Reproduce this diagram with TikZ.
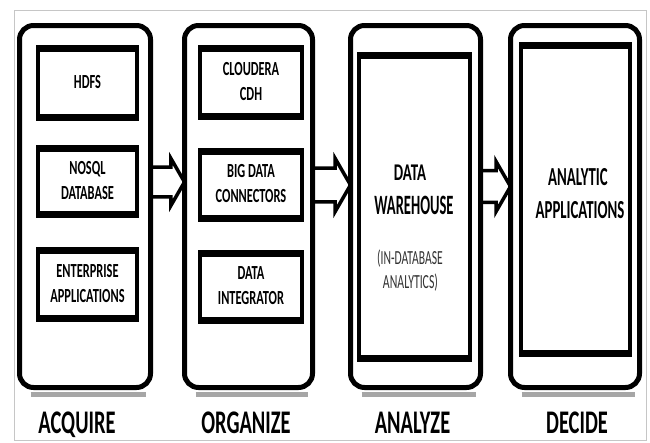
\documentclass[tikz,border=0pt]{standalone}
\usepackage{fontspec}
\setmainfont{Carlito}
\usetikzlibrary{shapes.arrows,calc,backgrounds}
\newcommand\sqz[2]{\scalebox{#1}[1]{\begin{tabular}[t]{@{}c@{}}#2\end{tabular}}}
\begin{document}
\begin{tikzpicture}[x=1pt,y=-1pt,
  outerbox/.style={draw, line width=5pt, rounded corners=14pt, inner sep=0pt, outer sep=0pt},
  innerbox/.style={draw, line width=4pt, inner sep=0pt, outer sep=0pt,
    font=\bfseries\fontsize{20}{25}\selectfont,
    path picture={\draw[line width=10pt]
      (path picture bounding box.north west) -- (path picture bounding box.north east)
      (path picture bounding box.south west) -- (path picture bounding box.south east);}},
  blk/.style={single arrow, draw, fill=white, line width=3.5pt, inner xsep=0pt,
    inner ysep=10.75pt, single arrow tip angle=120, outer sep=0pt, anchor=tip},
  shade/.style={draw=gray!70, line width=5pt},
  lab/.style={font=\bfseries\fontsize{33}{38}\selectfont, inner sep=0pt, anchor=base},
  big/.style={font=\bfseries\fontsize{26}{30}\selectfont, inner sep=0pt, anchor=base},
  small/.style={font=\fontsize{20}{24}\selectfont, text=black!80, inner sep=0pt, anchor=base}
]
\useasboundingbox (0,0) rectangle (650,442);
\draw[gray!45, line width=0.8pt] (14,10) rectangle (646,440);

% outer stage boxes
\node[outerbox, minimum width=131pt, minimum height=362pt] (o1) at (85,206.5) {};
\node[outerbox, minimum width=128pt, minimum height=362pt] (o2) at (248.5,206.5) {};
\node[outerbox, minimum width=130pt, minimum height=362pt] (o3) at (415.5,206.5) {};
\node[outerbox, minimum width=129pt, minimum height=362pt] (o4) at (575,206.5) {};

% inner boxes, stage 1
\node[innerbox, minimum width=99pt, minimum height=72pt] (hdfs) at (87.5,83) {\sqz{0.62}{HDFS}};
\node[innerbox, minimum width=99pt, minimum height=69pt] (nosql) at (87.5,181.5) {\sqz{0.62}{NOSQL\\DATABASE}};
\node[innerbox, minimum width=99pt, minimum height=71pt] (ent) at (87.5,284.5) {\sqz{0.62}{ENTERPRISE\\APPLICATIONS}};
% inner boxes, stage 2
\node[innerbox, minimum width=102pt, minimum height=71pt] (cdh) at (251,82.5) {\sqz{0.62}{CLOUDERA\\CDH}};
\node[innerbox, minimum width=102pt, minimum height=70pt] (bdc) at (251,185) {\sqz{0.62}{BIG DATA\\CONNECTORS}};
\node[innerbox, minimum width=102pt, minimum height=70pt] (di) at (251,287) {\sqz{0.62}{DATA\\INTEGRATOR}};
% inner boxes, stages 3 and 4
\node[innerbox, minimum width=111pt, minimum height=306pt] (w) at (414.5,207) {};
\node[innerbox, minimum width=109pt, minimum height=311pt] (v) at (575.5,199.5) {};

% texts of stage 3
\node[big, font=\bfseries\fontsize{24}{28}\selectfont] (dw1) at ($(w.north)+(-4.5,126)$) {\sqz{0.62}{DATA}};
\node[big, font=\bfseries\fontsize{28}{32}\selectfont] (dw2) at ($(w.north)+(-0.5,160)$) {\sqz{0.52}{WAREHOUSE}};
\node[small] (ida1) at ($(w.north)+(-4.5,210)$) {\sqz{0.58}{(IN-DATABASE}};
\node[small] (ida2) at ($(w.north)+(-4,234)$) {\sqz{0.59}{ANALYTICS)}};
% texts of stage 4
\node[big] (aa1) at ($(v.north)+(2.5,141)$) {\sqz{0.57}{ANALYTIC}};
\node[big] (aa2) at ($(v.north)+(4.5,174)$) {\sqz{0.57}{APPLICATIONS}};

% stage labels
\coordinate (lb) at (0,433);
\node[lab] (l1) at ($(o1 |- lb)+(-8,0)$) {\sqz{0.62}{ACQUIRE}};
\node[lab] (l2) at ($(o2 |- lb)+(-2.5,0)$) {\sqz{0.62}{ORGANIZE}};
\node[lab] (l3) at ($(o3 |- lb)+(-3,0)$) {\sqz{0.62}{ANALYZE}};
\node[lab] (l4) at ($(o4 |- lb)+(2,0)$) {\sqz{0.62}{DECIDE}};

\begin{scope}[on background layer]
  \foreach \b in {o1,o2,o3,o4}
    \draw[shade] ([xshift=11pt,yshift=-7pt]\b.south west) -- ([xshift=-5pt,yshift=-7pt]\b.south east);
  \node[blk, minimum height=34pt, minimum width=47pt] (a1) at ($(o2.west)+(0,-24.5)$) {};
  \node[blk, minimum height=38pt, minimum width=53pt] (a2) at ($(o3.west)+(0,-21.5)$) {};
  \node[blk, minimum height=30pt, minimum width=50pt] (a3) at ($(o4.west)+(0,-20)$) {};
\end{scope}
\end{tikzpicture}
\end{document}
